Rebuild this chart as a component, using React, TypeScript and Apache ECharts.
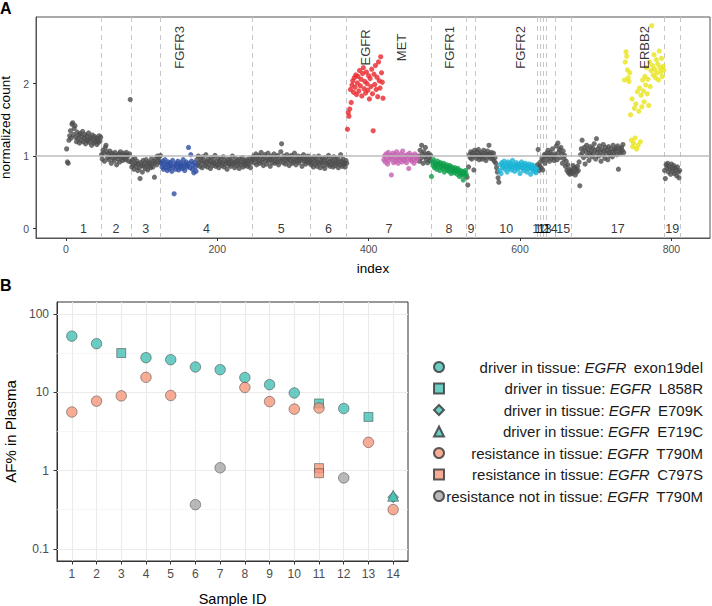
import React, { useEffect, useRef } from 'react';
import * as echarts from 'echarts';

// ---------- Panel A data (normalized counts, in index order) ----------
const chr1 = [1.10, 0.92, 0.90, 1.22, 1.28, 1.35, 1.25, 1.44, 1.46, 1.30, 1.38, 1.42, 1.26, 1.20, 1.33, 1.24, 1.29, 1.18, 1.31, 1.22, 1.27, 1.34, 1.20, 1.25, 1.30, 1.17, 1.23, 1.28, 1.21, 1.32, 1.19, 1.26, 1.24, 1.15, 1.29, 1.22, 1.18, 1.27, 1.20, 1.25, 1.16, 1.23, 1.19, 1.28, 1.21, 1.26];
const chr2 = [1.02, 0.96, 1.08, 1.04, 0.93, 1.12, 1.15, 1.06, 0.98, 1.03, 0.95, 1.07, 1.00, 0.90, 1.04, 0.97, 1.02, 0.94, 1.05, 0.99, 0.88, 1.01, 0.96, 1.03, 0.92, 1.06, 0.98, 1.00, 0.94, 1.04, 0.97, 1.02, 0.95, 1.05, 0.99, 1.01, 0.93, 1.03, 1.78];
const chr3 = [0.92, 0.85, 0.95, 0.88, 0.82, 0.97, 0.90, 0.86, 0.93, 0.80, 0.89, 0.84, 0.69, 0.91, 0.87, 0.78, 0.94, 0.86, 0.90, 0.83, 0.95, 0.88, 0.81, 0.92, 0.86, 0.90, 0.84, 0.96, 0.89, 0.85, 0.93, 0.71, 0.91, 0.97, 0.88, 1.00, 0.94, 0.98, 0.92, 1.01];
const chr4FGFR3 = [0.90, 0.85, 0.93, 0.82, 0.88, 0.95, 0.84, 0.89, 0.80, 0.92, 0.86, 0.83, 0.91, 0.87, 0.79, 0.94, 0.85, 0.48, 0.88, 0.82, 0.90, 0.86, 0.93, 0.81, 0.87, 0.84, 0.91, 0.88, 0.83, 0.95, 0.86, 0.80, 0.89, 0.92, 0.85, 0.87, 1.12, 0.90, 0.84, 1.02, 0.93, 0.82, 0.88, 0.77, 0.91, 0.85, 0.79];
const chr4Rest = [0.95, 0.88, 1.00, 0.91, 0.86, 0.97, 0.93, 0.84, 0.99, 0.90, 0.94, 0.87, 1.02, 0.92, 0.85, 0.96, 0.89, 0.93, 0.83, 0.98, 0.91, 0.87, 0.95, 0.90, 1.01, 0.86, 0.92, 0.88, 0.97, 0.84, 0.93, 0.90, 0.96, 0.87, 0.91, 0.99, 0.85, 0.94, 0.89, 0.92, 0.82, 0.96, 0.90, 0.88, 0.95, 0.86, 0.93, 1.00, 0.89, 0.91, 0.84, 0.97, 0.92, 0.87, 0.94, 0.90, 0.83, 0.96, 0.88, 0.92, 0.98, 0.85, 0.91, 0.94, 0.87, 0.90, 0.95, 0.86, 0.93, 0.89, 0.97, 0.84, 0.92, 0.96];
const chr5 = [0.95, 1.00, 0.91, 0.97, 1.03, 0.88, 0.96, 0.93, 1.01, 0.90, 0.98, 1.05, 0.92, 0.95, 0.87, 0.99, 1.02, 0.94, 0.89, 0.97, 1.04, 0.93, 0.96, 0.86, 1.00, 0.95, 0.91, 0.98, 1.03, 0.90, 0.94, 0.99, 0.92, 1.01, 0.88, 0.96, 0.93, 1.06, 1.17, 0.97, 0.91, 1.00, 0.95, 0.89, 0.98, 1.02, 0.93, 0.96, 0.87, 0.99, 0.94, 1.01, 0.90, 0.97, 0.92, 1.04, 0.95, 0.88, 0.98, 0.93, 1.00, 0.91, 0.96, 0.94, 0.99, 0.86, 0.97, 1.02, 0.92, 0.95, 0.89, 0.98, 0.93, 1.00, 0.91, 0.96];
const chr6 = [0.93, 0.88, 0.97, 0.91, 0.85, 0.99, 0.94, 0.89, 0.96, 0.86, 0.92, 1.00, 0.90, 0.84, 0.95, 0.91, 0.97, 0.87, 0.93, 0.83, 0.98, 0.90, 0.94, 0.88, 1.01, 0.92, 0.86, 0.96, 0.89, 0.93, 0.85, 0.99, 0.91, 0.87, 0.95, 0.90, 0.97, 0.84, 0.92, 0.88, 1.02, 0.93, 0.86, 0.96, 0.89, 0.91, 0.85, 0.94, 0.90];
const chr7EGFR = [1.37, 1.60, 1.55, 1.65, 1.92, 1.74, 1.98, 2.04, 1.88, 2.08, 1.95, 2.12, 1.85, 2.01, 2.10, 1.90, 2.18, 1.97, 2.06, 1.83, 2.14, 2.22, 1.93, 2.03, 1.87, 2.16, 2.00, 1.91, 2.11, 1.79, 2.07, 1.96, 2.20, 1.86, 1.35, 2.13, 1.99, 2.25, 1.92, 2.09, 1.82, 2.30, 2.04, 1.94, 2.37, 2.15, 2.02, 1.80];
const chr7MET = [0.95, 1.00, 0.92, 1.03, 0.97, 0.89, 1.05, 0.94, 0.99, 1.01, 0.74, 0.96, 1.04, 0.91, 0.98, 1.02, 0.93, 1.06, 0.97, 0.90, 1.00, 0.95, 1.03, 0.98, 0.92, 1.07, 0.96, 1.01, 0.94, 0.99, 0.91, 1.02, 0.97, 0.83, 1.04, 0.95, 0.99, 0.93, 1.01, 0.96, 0.90, 1.03, 0.98, 0.94, 1.00, 0.97];
const chr7Rest = [1.00, 0.93, 1.08, 0.97, 1.15, 1.03, 0.90, 1.06, 0.99, 1.12, 0.95, 1.02, 0.91, 1.04, 0.98, 0.94, 1.01];
const chr8FGFR1 = [0.72, 0.92, 0.87, 0.95, 0.84, 0.90, 0.88, 0.82, 0.93, 0.86, 0.89, 0.80, 0.91, 0.85, 0.87, 0.83, 0.90, 0.78, 0.86, 0.84, 0.88, 0.81, 0.85, 0.79, 0.87, 0.83, 0.76, 0.85, 0.80, 0.82, 0.77, 0.84, 0.79, 0.81, 0.75, 0.83, 0.78, 0.72, 0.80, 0.76, 0.74, 0.79, 0.67, 0.77, 0.73, 0.80, 0.75];
const chr9 = [0.71, 0.60, 0.85, 1.02, 0.98, 1.06, 0.96, 1.04, 1.00, 0.81, 1.08];
const chr10 = [1.02, 0.97, 1.06, 1.00, 1.09, 0.95, 1.03, 0.99, 1.05, 0.96, 1.01, 1.08, 0.98, 1.04, 0.94, 1.02, 1.07, 0.99, 1.15, 1.03, 0.97, 1.05, 1.00, 0.96, 1.04, 0.93, 0.98, 0.90, 0.84, 0.78, 0.70, 0.64];
const chr10FGFR2 = [0.80, 0.88, 0.76, 0.91, 0.84, 0.87, 0.93, 0.82, 0.89, 0.85, 0.78, 0.92, 0.86, 0.83, 0.90, 0.87, 0.81, 0.94, 0.85, 0.88, 0.79, 0.86, 0.91, 0.84, 0.82, 0.89, 0.87, 0.76, 0.85, 0.92, 0.83, 0.88, 0.80, 0.86, 0.90, 0.84, 0.78, 0.87, 0.82, 0.89, 0.85, 0.75, 0.83, 0.88, 0.81, 0.86, 0.79, 0.84, 0.77, 0.82];
const chr11 = [0.88, 1.09, 0.80, 0.86];
const chr12 = [0.92, 0.84, 0.97, 0.81];
const chr13 = [0.95, 1.02, 0.90, 1.00];
const chr14 = [1.04, 0.96, 1.08, 1.00, 0.93, 1.05, 1.02, 0.97, 1.10, 0.99, 0.94, 1.03];
const chr15 = [1.00, 1.14, 0.95, 1.18, 1.05, 1.09, 0.98, 1.12, 1.03, 0.90, 1.07, 0.96, 1.01, 0.86, 0.93, 0.80, 0.88, 0.77, 0.82, 0.75, 0.79];
const chr17 = [0.81, 0.76, 0.87, 0.79, 0.84, 0.74, 0.83, 0.78, 0.86, 0.80, 0.92, 0.59, 1.02, 1.10, 1.22, 1.05, 0.98, 1.12, 0.89, 1.07, 1.15, 1.01, 1.09, 0.94, 1.04, 1.13, 1.06, 0.99, 1.11, 1.03, 1.17, 1.08, 0.96, 1.24, 1.05, 1.10, 1.00, 1.14, 1.06, 0.93, 1.09, 1.02, 1.16, 1.07, 0.97, 1.12, 1.04, 1.08, 0.95, 1.13, 1.05, 1.01, 1.10, 1.06, 0.99, 1.15, 1.03, 1.09, 1.07, 1.11, 1.02, 1.14, 0.82, 1.06, 1.10, 1.04, 1.12, 1.08, 1.16, 1.05];
const chr17ERBB2 = [2.05, 2.30, 2.44, 2.38, 2.19, 2.08, 2.03, 2.15, 1.57, 1.22, 1.79, 1.13, 1.18, 1.66, 1.25, 1.72, 1.10, 1.89, 1.15, 1.62, 1.94, 1.20, 1.84, 1.68, 2.05, 1.90, 1.75, 2.10, 1.98, 2.22, 1.86, 2.06, 1.70, 2.30, 1.96, 2.18, 2.80, 2.25, 2.12, 2.40, 2.20, 2.08, 2.33, 2.15, 2.27, 2.05, 2.45, 2.22, 2.16, 2.35, 2.10, 2.24, 2.19];
const chr19 = [0.80, 0.69, 0.88, 0.84, 0.90, 0.78, 0.86, 0.82, 0.75, 0.89, 0.83, 0.79, 0.87, 0.76, 0.84, 0.81, 0.73, 0.85, 0.78, 0.70, 0.80];

// chromosome segment ends (index) and labels
const chrEnds = [46.6, 85.7, 125.3, 246, 322.7, 371, 482.8, 529.4, 540.8, 622.7, 626.6, 630.6, 634.5, 646.8, 667.5, 790.6, 811.7];
const chrLabels = ['1', '2', '3', '4', '5', '6', '7', '8', '9', '10', '11', '12', '13', '14', '15', '17', '19'];
const geneNames = ['FGFR3', 'EGFR', 'MET', 'FGFR1', 'FGFR2', 'ERBB2'];
const geneIndex = [150, 396, 444, 507, 600, 765];

// ---------- Panel B data (AF% in plasma by sample ID) ----------
const sampleIds = [1, 2, 3, 4, 5, 6, 7, 8, 9, 10, 11, 12, 13, 14];
const exon19del = [[1, 51.9], [2, 41.6], [4, 27.6], [5, 26.0], [6, 21.0], [7, 19.4], [8, 15.4], [9, 12.5], [10, 9.8], [12, 6.2]];
const l858r = [[3, 31.6], [11, 7.2], [13, 4.85]];
const e709k = [[14, 0.46]];
const e719c = [[14, 0.48]];
const t790m = [[1, 5.6], [2, 7.7], [3, 9.0], [4, 15.5], [5, 9.1], [8, 11.5], [9, 7.6], [10, 6.1], [11, 6.3], [13, 2.3], [14, 0.32]];
const c797s = [[11, 1.08], [11, 0.93]];
const t790mNotTissue = [[6, 0.37], [7, 1.09], [12, 0.81]];
const legendNames = [
  'driver in tissue: EGFR exon19del',
  'driver in tissue: EGFR L858R',
  'driver in tissue: EGFR E709K',
  'driver in tissue: EGFR E719C',
  'resistance in tissue: EGFR T790M',
  'resistance in tissue: EGFR C797S',
  'resistance not in tissue: EGFR T790M',
];

const FONT = '"Liberation Sans", Arial, Helvetica, sans-serif';
const LEG_FS = 15;

function measure(text: string, italic: boolean): number {
  const c = document.createElement('canvas').getContext('2d');
  if (!c) return text.length * LEG_FS * 0.5;
  c.font = `${italic ? 'italic ' : ''}${LEG_FS}px "Liberation Sans", Arial, sans-serif`;
  return c.measureText(text).width;
}

export default function App() {
  const ref = useRef<HTMLDivElement>(null);
  useEffect(() => {
    if (!ref.current) return;
    const chart = echarts.init(ref.current, undefined, { renderer: 'svg' });

    const order: [string, number[]][] = [
      ['grey', chr1], ['grey', chr2], ['grey', chr3], ['FGFR3', chr4FGFR3], ['grey', chr4Rest],
      ['grey', chr5], ['grey', chr6], ['EGFR', chr7EGFR], ['MET', chr7MET], ['grey', chr7Rest],
      ['FGFR1', chr8FGFR1], ['grey', chr9], ['grey', chr10], ['FGFR2', chr10FGFR2],
      ['grey', chr11], ['grey', chr12], ['grey', chr13], ['grey', chr14], ['grey', chr15],
      ['grey', chr17], ['ERBB2', chr17ERBB2], ['grey', chr19],
    ];
    const groups: Record<string, number[][]> = { grey: [], FGFR3: [], EGFR: [], MET: [], FGFR1: [], FGFR2: [], ERBB2: [] };
    let idx = 1;
    order.forEach(([k, vals]) => {
      vals.forEach((v) => {
        groups[k].push([idx, v]);
        idx += 1;
      });
    });
    const colors: Record<string, string> = {
      grey: '#4d4d4d', FGFR3: '#2f4fa2', EGFR: '#e8262a', MET: '#c660b0',
      FGFR1: '#0b9e4a', FGFR2: '#19b3d6', ERBB2: '#e8e31c',
    };
    const topSeries: any[] = Object.keys(groups).map((k) => ({
      type: 'scatter', xAxisIndex: 0, yAxisIndex: 0, name: 'A_' + k, data: groups[k],
      symbolSize: 5.2, itemStyle: { color: colors[k] }, z: 10, silent: true,
    }));

    const mids = chrEnds.map((e, i) => [((i === 0 ? 0 : chrEnds[i - 1]) + e) / 2, 0]);

    const teal = '#45bfb3';
    const salmon = '#f4977a';
    const grey = '#a8a8a8';
    const bStyle = (c: string) => ({ color: c, borderColor: '#333', borderWidth: 0.6 });
    const bSeries: any[] = [
      { name: legendNames[0], data: exon19del, symbol: 'circle', symbolSize: 10.5, itemStyle: bStyle(teal) },
      { name: legendNames[1], data: l858r, symbol: 'rect', symbolSize: 9, itemStyle: bStyle(teal) },
      { name: legendNames[2], data: e709k, symbol: 'diamond', symbolSize: 11, itemStyle: bStyle(teal) },
      { name: legendNames[3], data: e719c, symbol: 'triangle', symbolSize: 11, itemStyle: bStyle(teal) },
      { name: legendNames[4], data: t790m, symbol: 'circle', symbolSize: 10.5, itemStyle: bStyle(salmon) },
      { name: legendNames[5], data: c797s, symbol: 'rect', symbolSize: 9, itemStyle: bStyle(salmon) },
      { name: legendNames[6], data: t790mNotTissue, symbol: 'circle', symbolSize: 10.5, itemStyle: bStyle(grey) },
    ].map((s, i) => ({ ...s, type: 'scatter', xAxisIndex: 1, yAxisIndex: 1, z: 10 + i, silent: true }));

    const majorY = [0.1, 1, 10, 100];
    const minorY = [Math.pow(10, -0.5), Math.pow(10, 0.5), Math.pow(10, 1.5)];

    // legend labels, right-aligned, with italic gene name
    const legendTop = 359;
    const rowPitch = 21.5;
    const rightEdge = 703;
    const spaceW = measure(' ', false);
    const legendTexts: any[] = [];
    legendNames.forEach((name, i) => {
      const parts = name.split('EGFR');
      const pre = parts[0].trim();
      const post = parts[1].trim();
      const y = legendTop + 8 + i * rowPitch;
      const wPost = measure(post, false);
      const wGene = measure('EGFR', true);
      const xGeneRight = rightEdge - wPost - spaceW * 1.8;
      const xPreRight = xGeneRight - wGene - spaceW;
      const base = { verticalAlign: 'middle', align: 'right', fontSize: LEG_FS, fontFamily: FONT, fill: '#1a1a1a' };
      legendTexts.push({ type: 'text', x: rightEdge, y, silent: true, style: { ...base, text: post } });
      legendTexts.push({ type: 'text', x: xGeneRight, y, silent: true, style: { ...base, text: 'EGFR', fontStyle: 'italic' } });
      legendTexts.push({ type: 'text', x: xPreRight, y, silent: true, style: { ...base, text: pre } });
    });

    const plainLabel = { color: '#000', fontFamily: FONT, textBorderWidth: 0, align: 'center', verticalAlign: 'middle', position: [0, 0] };

    const option: any = {
      animation: false,
      backgroundColor: '#fff',
      textStyle: { fontFamily: FONT },
      title: [
        { text: 'A', left: 0, top: 0, padding: 0, textStyle: { fontSize: 16, fontWeight: 'bold', color: '#000', fontFamily: FONT } },
        { text: 'B', left: 0, top: 277, padding: 0, textStyle: { fontSize: 16, fontWeight: 'bold', color: '#000', fontFamily: FONT } },
      ],
      grid: [
        { left: 36, top: 17, width: 674, height: 221, show: true, borderColor: '#555', borderWidth: 1, backgroundColor: 'transparent', containLabel: false, outerBoundsMode: 'none' },
        { left: 57, top: 302, width: 351, height: 259, show: true, borderColor: '#333', borderWidth: 1, backgroundColor: 'transparent', containLabel: false, outerBoundsMode: 'none' },
      ],
      xAxis: [
        {
          type: 'value', gridIndex: 0, min: -39.5, max: 851,
          splitLine: { show: false },
          axisLine: { show: true, onZero: false, lineStyle: { color: '#555' } },
          axisTick: { show: true, customValues: [0, 200, 400, 600, 800], length: 3, lineStyle: { color: '#333' } },
          axisLabel: { customValues: [0, 200, 400, 600, 800], color: '#4d4d4d', fontSize: 10.5, margin: 5, fontFamily: FONT },
          name: 'index', nameLocation: 'middle', nameGap: 23,
          nameTextStyle: { fontSize: 13.5, color: '#000', fontFamily: FONT },
        },
        {
          type: 'value', gridIndex: 1, min: 0.4, max: 14.6,
          splitLine: { show: false },
          axisLine: { show: true, onZero: false, lineStyle: { color: '#333' } },
          axisTick: { show: true, customValues: sampleIds, length: 3.5, lineStyle: { color: '#333' } },
          axisLabel: { customValues: sampleIds, color: '#4d4d4d', fontSize: 12, margin: 7, fontFamily: FONT },
          name: 'Sample ID', nameLocation: 'middle', nameGap: 30,
          nameTextStyle: { fontSize: 14.5, color: '#000', fontFamily: FONT },
        },
      ],
      yAxis: [
        {
          type: 'value', gridIndex: 0, min: -0.13, max: 2.92,
          splitLine: { show: false },
          axisLine: { show: true, onZero: false, lineStyle: { color: '#555' } },
          axisTick: { show: true, customValues: [0, 1, 2], length: 3, lineStyle: { color: '#333' } },
          axisLabel: { customValues: [0, 1, 2], color: '#4d4d4d', fontSize: 10.5, margin: 7, fontFamily: FONT },
          name: 'normalized count', nameLocation: 'middle', nameGap: 19,
          nameTextStyle: { fontSize: 13.5, color: '#000', fontFamily: FONT },
        },
        {
          type: 'log', logBase: 10, gridIndex: 1, min: Math.pow(10, -1.15), max: Math.pow(10, 2.15),
          splitLine: { show: false },
          axisLine: { show: true, onZero: false, lineStyle: { color: '#333' } },
          axisTick: { show: true, length: 3.5, lineStyle: { color: '#333' } },
          axisLabel: {
            showMinLabel: false, showMaxLabel: false, color: '#4d4d4d', fontSize: 12, margin: 8, fontFamily: FONT,
            formatter: (v: number) => String(Number(v.toPrecision(3))),
          },
          name: 'AF% in Plasma', nameLocation: 'middle', nameGap: 39,
          nameTextStyle: { fontSize: 15, color: '#000', fontFamily: FONT },
        },
      ],
      legend: {
        data: legendNames, orient: 'vertical', left: 433, top: legendTop, padding: 0,
        itemWidth: 10, itemHeight: 10, itemGap: 5.5, selectedMode: false,
        formatter: () => ' ',
        textStyle: { fontSize: LEG_FS, lineHeight: 16, color: '#1a1a1a', fontFamily: FONT },
      },
      graphic: legendTexts,
      series: [
        {
          type: 'scatter', xAxisIndex: 0, yAxisIndex: 0, data: [], z: 1, silent: true,
          markLine: {
            z: 1, silent: true, symbol: ['none', 'none'], label: { show: false },
            lineStyle: { type: [5, 4], color: '#c6c6c6', width: 1 },
            data: chrEnds.map((x) => ({ xAxis: x })),
          },
        },
        ...topSeries,
        {
          type: 'scatter', xAxisIndex: 0, yAxisIndex: 0, data: [], z: 20, silent: true,
          markLine: {
            z: 20, silent: true, symbol: ['none', 'none'], label: { show: false },
            lineStyle: { type: 'solid', color: '#bdbdbd', width: 1.5 },
            data: [{ yAxis: 1 }],
          },
        },
        {
          type: 'scatter', xAxisIndex: 0, yAxisIndex: 0, z: 25, silent: true, symbolSize: 0,
          itemStyle: { color: '#000' },
          data: mids.map((m, i) => ({ value: m, name: chrLabels[i] })),
          label: { show: true, formatter: '{b}', fontSize: 12.5, ...plainLabel },
        },
        {
          type: 'scatter', xAxisIndex: 0, yAxisIndex: 0, z: 25, silent: true, symbolSize: 0,
          itemStyle: { color: '#000' },
          data: geneNames.map((g, i) => ({ value: [geneIndex[i], 2.5], name: g })),
          label: { show: true, rotate: 90, formatter: '{b}', fontSize: 13, ...plainLabel },
        },
        {
          type: 'scatter', xAxisIndex: 1, yAxisIndex: 1, data: [], z: 1, silent: true,
          markLine: {
            z: 1, silent: true, symbol: ['none', 'none'], label: { show: false },
            lineStyle: { type: 'solid', color: '#ebebeb', width: 1.1 },
            data: [
              ...sampleIds.map((x) => ({ xAxis: x })),
              ...majorY.map((y) => ({ yAxis: y })),
              ...minorY.map((y) => ({ yAxis: y, lineStyle: { color: '#f0f0f0', width: 0.6, type: 'solid' } })),
            ],
          },
        },
        ...bSeries,
      ],
    };
    chart.setOption(option);
    return () => chart.dispose();
  }, []);
  return <div ref={ref} style={{ position: 'absolute', left: 0, top: 0, width: 712, height: 606 }} />;
}
